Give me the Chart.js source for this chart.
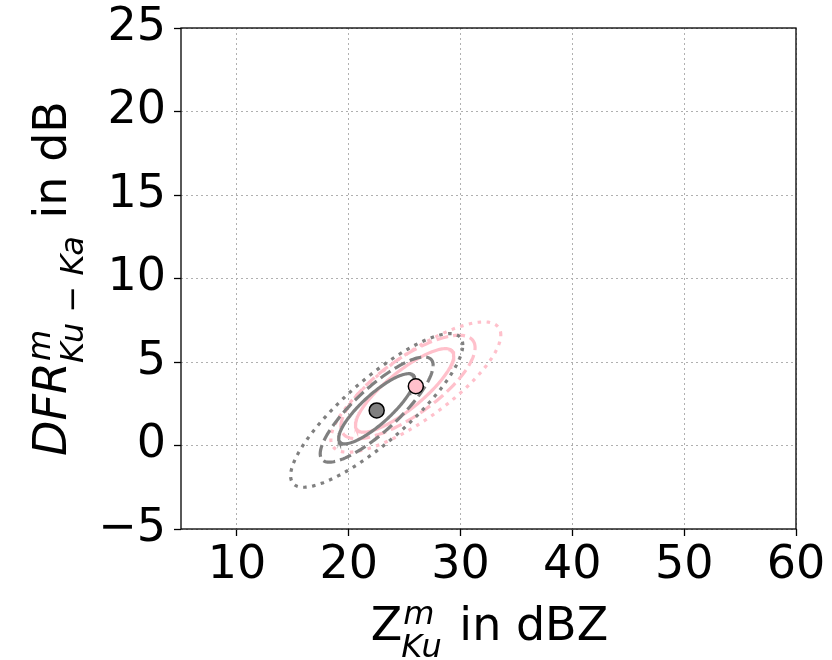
<!DOCTYPE html>
<html>
<head>
<meta charset="utf-8">
<script src="https://cdn.jsdelivr.net/npm/chart.js@4.4.1/dist/chart.umd.min.js"></script>
<style>
  html, body { margin: 0; padding: 0; background: #ffffff; }
  #wrap { width: 832px; height: 660px; position: relative; }
</style>
</head>
<body>
<div id="wrap"><canvas id="c" width="832" height="660"></canvas></div>
<script>
// ---------------- data ----------------
const xTicks = [10, 20, 30, 40, 50, 60];
const yTicks = [-5, 0, 5, 10, 15, 20, 25];
const xRange = [5, 60];
const yRange = [-5, 25];

// group means (markers)
const groupNames  = ['gray', 'pink'];
const meanX = [22.5, 26.0];
const meanY = [2.1, 3.55];

// contour ellipses: group, line style, centre, half-extents, correlation
const ellGroup = ['gray', 'gray', 'gray', 'pink', 'pink', 'pink'];
const ellStyle = ['solid', 'dashed', 'dotted', 'solid', 'dashed', 'dotted'];
const ellCx  = [22.5, 22.5, 22.5, 25.0, 25.3, 26.0];
const ellCy  = [2.2, 2.15, 2.1, 3.3, 3.5, 3.5];
const ellHx  = [3.4, 5.05, 7.7, 4.4, 6.0, 7.6];
const ellHy  = [2.1, 3.15, 4.6, 2.5, 3.1, 3.9];
const ellRho = [0.84, 0.84, 0.85, 0.83, 0.76, 0.8];

// ---------------- styling ----------------
const COLORS = { gray: '#808080', pink: '#ffc0cb' };
const DASH = { solid: [], dashed: [12, 5], dotted: [3.5, 5.5] };
const FONT = '"DejaVu Sans", sans-serif';

function ellipsePoints(i) {
  const pts = [];
  const n = 160;
  const s = Math.sqrt(1 - ellRho[i] * ellRho[i]);
  for (let k = 0; k <= n; k++) {
    const t = 2 * Math.PI * k / n;
    pts.push({
      x: ellCx[i] + ellHx[i] * Math.cos(t),
      y: ellCy[i] + ellHy[i] * (ellRho[i] * Math.cos(t) + s * Math.sin(t))
    });
  }
  return pts;
}

const datasets = [];
// markers first (drawn last, on top)
groupNames.forEach((g, i) => {
  datasets.push({
    label: g + ' mean',
    data: [{ x: meanX[i], y: meanY[i] }],
    showLine: false,
    pointRadius: 7.5,
    pointHoverRadius: 7.5,
    pointBackgroundColor: COLORS[g],
    pointBorderColor: '#000000',
    pointBorderWidth: 1.5
  });
});
for (let i = 0; i < ellGroup.length; i++) {
  datasets.push({
    label: ellGroup[i] + ' ' + ellStyle[i],
    data: ellipsePoints(i),
    showLine: true,
    fill: false,
    borderColor: COLORS[ellGroup[i]],
    borderWidth: 3.2,
    borderDash: DASH[ellStyle[i]],
    pointRadius: 0,
    pointHoverRadius: 0,
    tension: 0
  });
}

function setTicks(list) {
  return function (scale) { scale.ticks = list.map(v => ({ value: v })); };
}
function fmt(v) { return v < 0 ? '\u2212' + Math.abs(v) : String(v); }

// frame + axis titles with super/subscripts
const decor = {
  id: 'decor',
  afterDraw(chart) {
    const ctx = chart.ctx;
    const a = chart.chartArea;
    ctx.save();
    ctx.strokeStyle = '#000000';
    ctx.lineWidth = 1.3;
    ctx.setLineDash([]);
    ctx.strokeRect(a.left, a.top, a.right - a.left, a.bottom - a.top);

    const big = '46px ' + FONT;
    const bigIt = 'italic 46px ' + FONT;
    const small = 'italic 32px ' + FONT;
    ctx.fillStyle = '#000000';
    ctx.textBaseline = 'alphabetic';
    ctx.textAlign = 'left';

    function drawLabel(mainTxt, mainFont, supTxt, subTxt, restTxt, cx, baseY) {
      ctx.font = mainFont; const w1 = ctx.measureText(mainTxt).width;
      ctx.font = small;
      const ws = ctx.measureText(supTxt).width;
      const wb = ctx.measureText(subTxt).width;
      const w2 = Math.max(ws, wb) + 2;
      ctx.font = big; const w3 = ctx.measureText(restTxt).width;
      const total = w1 + w2 + w3;
      let x = cx - total / 2;
      ctx.font = mainFont; ctx.fillText(mainTxt, x, baseY); x += w1;
      ctx.font = small;
      ctx.fillText(supTxt, x + 1, baseY - 16);
      ctx.fillText(subTxt, x - 1, baseY + 17);
      x += w2;
      ctx.font = big; ctx.fillText(restTxt, x, baseY);
    }

    // x title
    drawLabel('Z', big, 'm', 'Ku', ' in dBZ', (a.left + a.right) / 2 + 1, 640);

    // y title (rotated)
    ctx.save();
    ctx.translate(66, (a.top + a.bottom) / 2);
    ctx.rotate(-Math.PI / 2);
    drawLabel('DFR', bigIt, 'm', 'Ku \u2212 Ka', ' in dB', 0, 0);
    ctx.restore();
    ctx.restore();
  }
};

new Chart(document.getElementById('c'), {
  type: 'scatter',
  data: { datasets },
  options: {
    responsive: false,
    animation: false,
    devicePixelRatio: 1,
    layout: { padding: { left: 0, right: 36, top: 28, bottom: 0 } },
    plugins: { legend: { display: false }, tooltip: { enabled: false } },
    scales: {
      x: {
        type: 'linear',
        min: xRange[0], max: xRange[1],
        afterBuildTicks: setTicks(xTicks),
        afterFit(s) { s.height = 131; s.paddingLeft = 0; s.paddingRight = 0; },
        grid: {
          color: '#b0b0b0', lineWidth: 1,
          tickColor: '#000000', tickLength: 7, tickWidth: 1.3, tickBorderDash: []
        },
        border: { display: false, dash: [2, 3] },
        ticks: {
          color: '#000000', padding: 2, maxRotation: 0,
          font: { family: FONT, size: 46 },
          callback: fmt
        }
      },
      y: {
        type: 'linear',
        min: yRange[0], max: yRange[1],
        afterBuildTicks: setTicks(yTicks),
        afterFit(s) { s.width = 181; s.paddingTop = 0; s.paddingBottom = 0; },
        grid: {
          color: '#b0b0b0', lineWidth: 1,
          tickColor: '#000000', tickLength: 7, tickWidth: 1.3, tickBorderDash: []
        },
        border: { display: false, dash: [2, 3] },
        ticks: {
          color: '#000000', padding: 8,
          font: { family: FONT, size: 46 },
          callback: fmt
        }
      }
    }
  },
  plugins: [decor]
});
</script>
</body>
</html>
